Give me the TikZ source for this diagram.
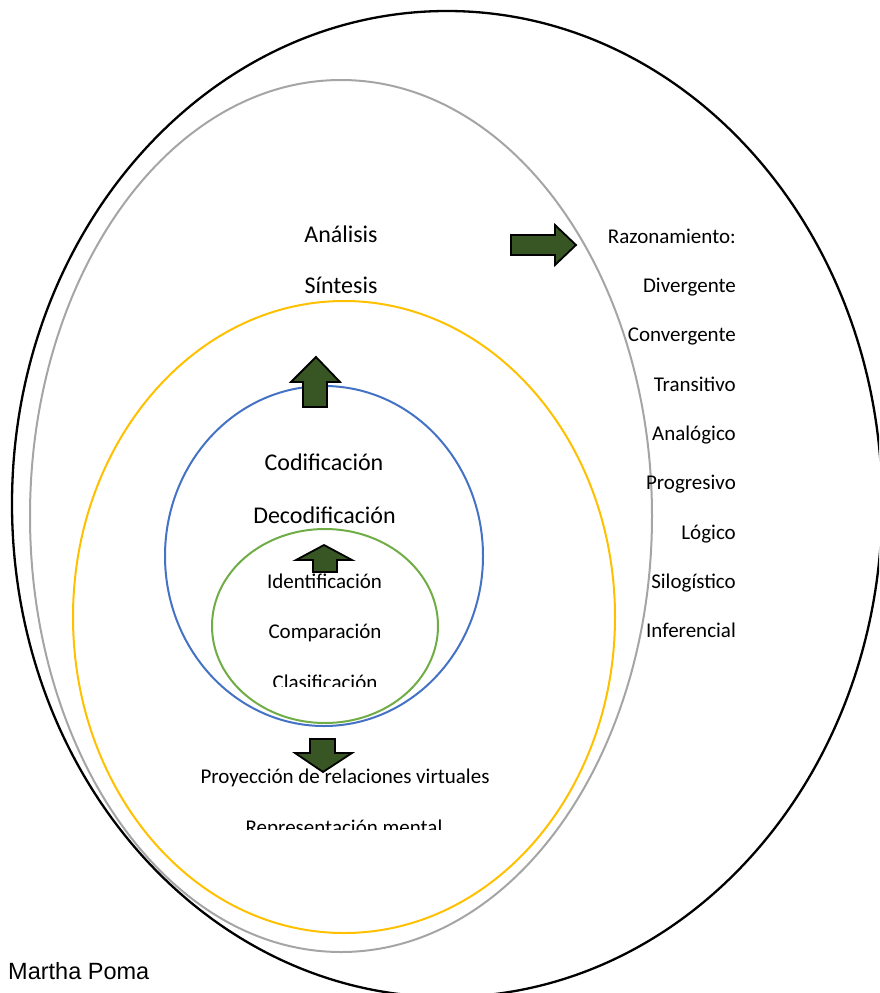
\documentclass[tikz,border=0pt]{standalone}
\usepackage{fontspec}
\setmainfont{Carlito}
\newfontfamily\arialfont{Liberation Sans}
\definecolor{grayline}{HTML}{A5A5A5}
\definecolor{yellowline}{HTML}{FFC000}
\definecolor{blueline}{HTML}{4472C4}
\definecolor{greenline}{HTML}{70AD47}
\definecolor{arrowfill}{HTML}{375623}
\begin{document}
\begin{tikzpicture}[x=1pt,y=-1pt,
  ring/.style={line width=2pt},
  blockarrow/.style={draw=black,fill=arrowfill,line width=1.8pt,line join=miter},
  bigtext/.style={font=\fontsize{24}{28}\selectfont,anchor=base,inner sep=0pt},
  smalltext/.style={font=\fontsize{21}{25}\selectfont,anchor=base,inner sep=0pt},
  listitem/.style={font=\fontsize{21}{25}\selectfont,anchor=base east,inner sep=0pt}]
\useasboundingbox (0,0) rectangle (879,993);
\begin{scope}
\clip (0,0) rectangle (879,993);
% rings
\draw[ring,black,line width=2.3pt] (447,504) ellipse [x radius=435,y radius=493];
\draw[ring,grayline] (341,516) ellipse [x radius=311,y radius=436];
\draw[ring,yellowline] (344,617) ellipse [x radius=271,y radius=316];
\draw[ring,blueline] (324,556) ellipse [x radius=159,y radius=170];
\draw[ring,greenline] (325,626) ellipse [x radius=113,y radius=97];
\end{scope}
% block arrows
\draw[blockarrow] (511,235) -- (555,235) -- (555,225) -- (576,245) -- (555,265) -- (555,255) -- (511,255) -- cycle;
\draw[blockarrow] (303,407) -- (303,382) -- (291,382) -- (316,357) -- (340,382) -- (327,382) -- (327,407) -- cycle;
\draw[blockarrow] (313,572) -- (313,560) -- (296,560) -- (324,545) -- (352,560) -- (337,560) -- (337,572) -- cycle;
\draw[blockarrow] (310,739) -- (335,739) -- (335,753) -- (352,753) -- (323,772) -- (295,753) -- (310,753) -- cycle;
% texts
\node[bigtext] (analisis) at (341,242) {Análisis};
\node[bigtext] (sintesis) at (341,293) {Síntesis};
\node[bigtext] (cod) at (324,470) {Codificación};
\node[bigtext] (decod) at (324.5,523) {Decodificación};
\node[smalltext] (ident) at (324.5,588) {Identificación};
\node[smalltext] (comp) at (325,638) {Comparación};
\begin{scope}
\clip (200,650) rectangle (450,686);
\node[smalltext] (clasif) at (325,689) {Clasificación};
\end{scope}
\node[smalltext] (proy) at (345,783) {Proyección de relaciones virtuales};
\begin{scope}
\clip (200,800) rectangle (480,829);
\node[smalltext] (repr) at (344,834) {Representación mental};
\end{scope}
\node[listitem] (razon) at (736,243) {Razonamiento:};
\node[listitem] (diverg) at (736,292) {Divergente};
\node[listitem] (converg) at (736,341.5) {Convergente};
\node[listitem] (trans) at (736,391) {Transitivo};
\node[listitem] (analog) at (736,440) {Analógico};
\node[listitem] (progr) at (736,489.5) {Progresivo};
\node[listitem] (logico) at (736,539) {Lógico};
\node[listitem] (silog) at (736,588) {Silogístico};
\node[listitem] (infer) at (736,637.5) {Inferencial};
\node[font=\arialfont\fontsize{23.5}{28}\selectfont,anchor=base west,inner sep=0pt] (autor) at (8,979) {Martha Poma};
\end{tikzpicture}
\end{document}
